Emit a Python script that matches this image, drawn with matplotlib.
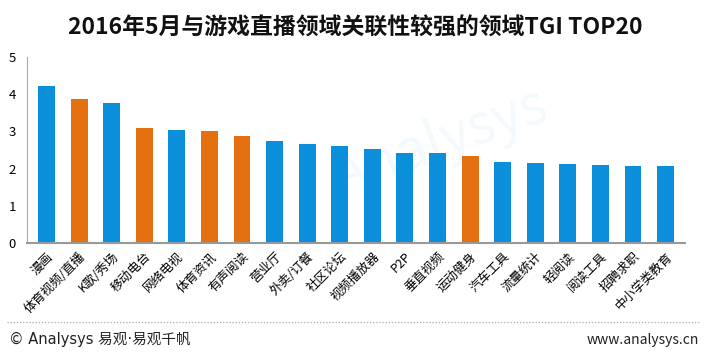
import matplotlib
matplotlib.use("Agg")
import matplotlib.pyplot as plt
from matplotlib.lines import Line2D

plt.rcParams['font.family'] = ['Noto Sans CJK SC', 'DejaVu Sans']

categories = ["漫画", "体育视频/直播", "K歌/秀场", "移动电台", "网络电视", "体育资讯", "有声阅读",
              "营业厅", "外卖/订餐", "社区论坛", "视频播放器", "P2P", "垂直视频", "运动健身",
              "汽车工具", "流量统计", "轻阅读", "阅读工具", "招聘求职", "中小学类教育"]
tgi = [4.22, 3.87, 3.76, 3.09, 3.04, 3.01, 2.88, 2.75, 2.65, 2.62, 2.53, 2.43, 2.43, 2.33,
       2.17, 2.14, 2.13, 2.11, 2.07, 2.07]
highlight = [1, 3, 5, 6, 13]

blue = "#0c8fdb"
orange = "#e5700f"
colors = [orange if i in highlight else blue for i in range(len(categories))]

fig = plt.figure(figsize=(7.1, 3.56), dpi=100)
ax = fig.add_axes([0.038, 0.317, 0.927, 0.523])

x = range(len(categories))
ax.bar(x, tgi, width=0.52, color=colors, zorder=2)
ax.set_xlim(-0.6, len(categories) - 0.4)
ax.set_ylim(0, 5)
ax.set_yticks(range(6))
ax.tick_params(axis="y", length=0, labelsize=9.5, pad=8)
ax.tick_params(axis="x", length=0, pad=5)
ax.set_xticks(list(x))
ax.set_xticklabels(categories, rotation=45, ha="right", rotation_mode="anchor", fontsize=9)
for s in ["top", "right"]:
    ax.spines[s].set_visible(False)
ax.spines["left"].set_color("#aaaaaa")
ax.spines["bottom"].set_color("#999999")
ax.spines["bottom"].set_linewidth(1.5)

# watermark
fig.text(0.62, 0.6, "Analysys", fontsize=40, color="#0c8fdb", alpha=0.05,
         rotation=20, ha="center", va="center", style="italic")

fig.text(0.5, 0.92, "2016年5月与游戏直播领域关联性较强的领域TGI TOP20",
         ha="center", va="center", fontsize=16.5, fontweight="bold", color="#111111")

fig.add_artist(Line2D([0.01, 0.985], [0.095, 0.095], transform=fig.transFigure,
                      color="#aaaaaa", linestyle=(0, (1, 1.5)), linewidth=0.9))
fig.text(0.012, 0.045, "© Analysys 易观·易观千帆", ha="left", va="center", fontsize=10.5,
         color="#222222", family=["DejaVu Sans", "Noto Sans CJK SC"])
fig.text(0.985, 0.045, "www.analysys.cn", ha="right", va="center", fontsize=10, color="#222222")

fig.savefig("out.png", dpi=100)
